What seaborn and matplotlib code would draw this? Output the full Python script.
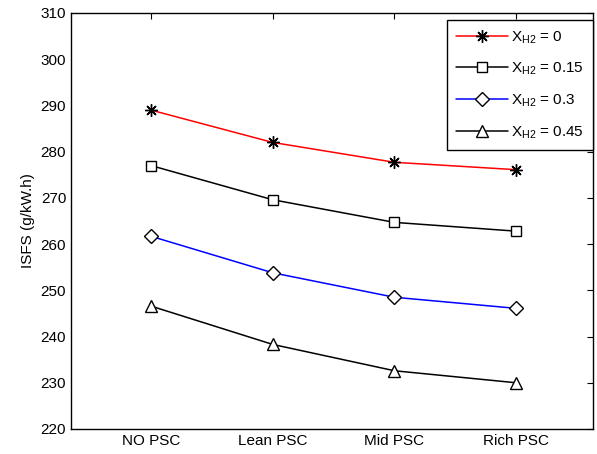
import pandas as pd
import seaborn as sns
import matplotlib.pyplot as plt

# data
categories = ['NO PSC', 'Lean PSC', 'Mid PSC', 'Rich PSC']
isfs_x0 = [289.0, 282.0, 277.7, 276.1]
isfs_x015 = [277.0, 269.6, 264.7, 262.8]
isfs_x03 = [261.7, 253.8, 248.5, 246.1]
isfs_x045 = [246.6, 238.3, 232.6, 230.0]
labels = [r'$\mathregular{X_{H2}}$ = 0', r'$\mathregular{X_{H2}}$ = 0.15',
          r'$\mathregular{X_{H2}}$ = 0.3', r'$\mathregular{X_{H2}}$ = 0.45']
yticks = list(range(220, 311, 10))

sns.set_style('white')
plt.rcParams['font.family'] = ['Liberation Sans', 'DejaVu Sans']
plt.rcParams['mathtext.fontset'] = 'custom'
plt.rcParams['mathtext.rm'] = 'Liberation Sans'
plt.rcParams['font.size'] = 11
plt.rcParams['text.color'] = 'black'
plt.rcParams['axes.labelcolor'] = 'black'

fig = plt.figure(figsize=(5.97, 4.54), dpi=100)
ax = fig.add_axes([71 / 597, 1 - 429 / 454, (593 - 71) / 597, (429 - 13) / 454])

series = [isfs_x0, isfs_x015, isfs_x03, isfs_x045]
colors = ['red', 'black', 'blue', 'black']
markers = [(8, 2, 0), 's', 'D', '^']
sizes = [9, 7.5, 7, 8.5]

for vals, lab, col, mk, ms in zip(series, labels, colors, markers, sizes):
    df = pd.DataFrame({'cond': categories, 'isfs': vals})
    sns.lineplot(data=df, x='cond', y='isfs', ax=ax, color=col, marker=mk,
                 markersize=ms, markerfacecolor='white', markeredgecolor='black',
                 markeredgewidth=1.0, linewidth=1.1, label=lab, sort=False)

ax.set_xlim(-0.656, 3.63)
ax.set_ylim(220, 310)
ax.set_yticks(yticks)
ax.set_xlabel('')
ax.set_ylabel('ISFS (g/kW.h)', fontsize=11, color='black')
ax.tick_params(direction='in', top=True, right=True, length=4, width=0.8,
               labelsize=11, colors='black')
for s in ax.spines.values():
    s.set_color('black')
    s.set_linewidth(1.0)

leg = ax.legend(loc='upper right', bbox_to_anchor=(1.0, 1 - 7 / 416),
                borderaxespad=0, fancybox=False, edgecolor='black',
                handlelength=3.4, labelspacing=1.0, fontsize=11,
                borderpad=0.6, handletextpad=0.2, framealpha=1)
leg.get_frame().set_linewidth(1.0)

fig.savefig('out.png', dpi=100)
